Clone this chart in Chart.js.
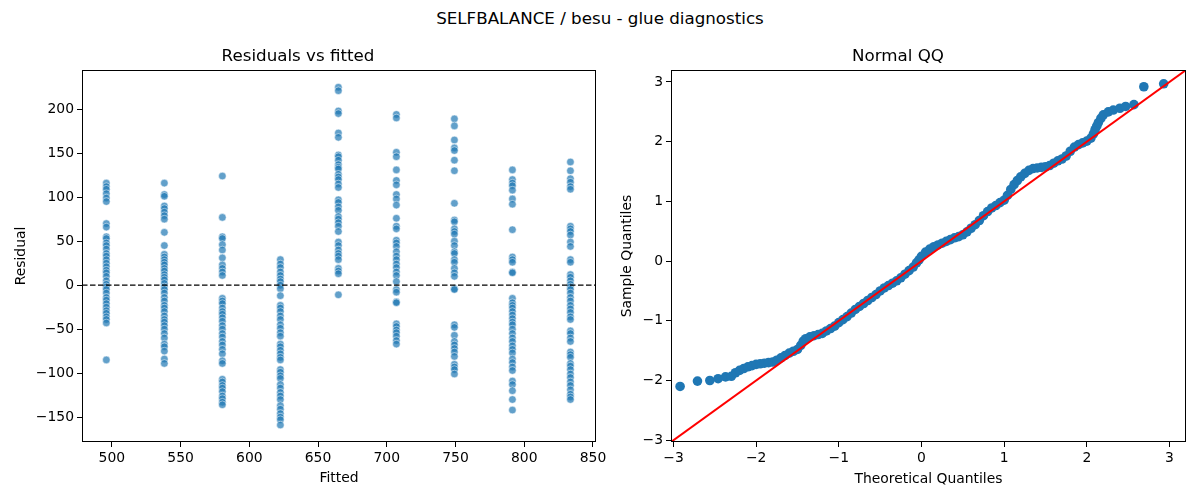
<!DOCTYPE html>
<html>
<head>
<meta charset="utf-8">
<script src="https://cdn.jsdelivr.net/npm/chart.js@4.4.1/dist/chart.umd.min.js"></script>
<style>
  body { margin: 0; width: 1200px; height: 500px; background: #fff; position: relative; overflow: hidden; }
  #suptitulo { position: absolute; left: 0; top: 0; width: 1200px; height: 36px; line-height: 36px;
    text-align: center; font-family: 'DejaVu Sans'; font-size: 16.7px; color: #000; }
  canvas { position: absolute; top: 40px; }
  #residuos { left: 0; }
  #qq { left: 610px; }
</style>
</head>
<body>
<div id="suptitulo">SELFBALANCE / besu - glue diagnostics</div>
<canvas id="residuos" width="610" height="460"></canvas>
<canvas id="qq" width="590" height="460"></canvas>
<script>
// valores ajustados (eixo x do painel da esquerda)
const fittedValues = [496, 538.2, 580.4, 622.6, 664.8, 707, 749.2, 791.4, 833.6];

const resCol1 = [116, 112, 109, 104, 99, 95, 70, 66, 55, 53, 48, 45, 41, 36, 33, 29, 25, 21, 17, 14, 10, 5, 1, -2, -5, -9, -14, -17, -21, -25, -29, -32, -36, -39, -43, -85];
const resCol2 = [116, 103, 101, 90, 87, 83, 79, 75, 60, 45, 35, 32, 29, 26, 23, 19, 16, 12, 9, 6, 2, -2, -5, -9, -14, -18, -23, -26, -30, -35, -39, -42, -46, -50, -55, -60, -67, -70, -75, -84, -89];
const resCol3 = [124, 77, 55, 53, 46, 40, 31, 23, 19, 15, 11, -15, -18, -21, -26, -30, -33, -37, -41, -46, -50, -55, -59, -64, -68, -73, -78, -86, -89, -107, -110, -114, -117, -121, -126, -129, -133, -136];
const resCol4 = [29, 24, 20, 15, 11, 7, 4, 0, -4, -12, -23, -26, -30, -35, -39, -45, -49, -54, -58, -67, -70, -74, -78, -82, -85, -96, -99, -103, -106, -113, -117, -122, -126, -130, -137, -141, -146, -150, -153, -159];
const resCol5 = [225, 221, 198, 195, 173, 168, 148, 146, 142, 137, 134, 132, 126, 123, 120, 115, 111, 97, 94, 89, 85, 78, 75, 71, 67, 61, 49, 45, 40, 36, 33, 29, 19, 16, 13, -11];
const resCol6 = [194, 190, 151, 146, 131, 119, 114, 103, 98, 91, 76, 67, 64, 51, 48, 44, 38, 33, 29, 24, 20, 15, 11, 4, -5, -8, -19, -20, -44, -47, -51, -54, -58, -63, -67];
const resCol7 = [189, 181, 165, 156, 153, 142, 130, 93, 74, 72, 64, 61, 58, 50, 45, 38, 36, 29, 26, 19, 14, 10, -4, -5, -45, -48, -57, -64, -68, -72, -76, -81, -90, -93, -96, -101];
const resCol8 = [131, 120, 116, 113, 108, 98, 92, 63, 32, 29, 26, 15, 14, -15, -20, -23, -26, -30, -34, -38, -42, -45, -50, -55, -60, -64, -69, -73, -77, -84, -88, -93, -97, -109, -113, -120, -130, -142];
const resCol9 = [140, 130, 121, 117, 112, 109, 67, 64, 61, 57, 49, 44, 29, 26, 12, 9, 5, 1, -2, -5, -9, -14, -18, -23, -27, -31, -36, -39, -52, -55, -60, -64, -76, -79, -82, -89, -92, -96, -101, -105, -110, -114, -119, -124, -127, -130];
const residualColumns = [resCol1, resCol2, resCol3, resCol4, resCol5, resCol6, resCol7, resCol8, resCol9];

// quantis do grafico QQ (teorico, amostra)
const qqTheoretical = [-2.92, -2.71, -2.56, -2.46, -2.37, -2.30, -2.25, -2.20, -2.15, -2.10, -2.05, -2.00, -1.95, -1.90, -1.85, -1.80, -1.75, -1.70, -1.65, -1.60, -1.55, -1.50, -1.46, -1.43, -1.40, -1.35, -1.30, -1.25, -1.20, -1.15, -1.10, -1.05, -1.00, -0.95, -0.90, -0.85, -0.80, -0.75, -0.70, -0.65, -0.60, -0.55, -0.50, -0.45, -0.40, -0.35, -0.30, -0.25, -0.20, -0.15, -0.10, -0.06, -0.03, 0.00, 0.05, 0.10, 0.15, 0.20, 0.25, 0.30, 0.35, 0.40, 0.45, 0.50, 0.55, 0.60, 0.65, 0.70, 0.75, 0.80, 0.85, 0.90, 0.95, 1.00, 1.04, 1.08, 1.12, 1.16, 1.20, 1.25, 1.30, 1.35, 1.40, 1.45, 1.50, 1.55, 1.60, 1.65, 1.70, 1.75, 1.80, 1.85, 1.90, 1.95, 2.00, 2.05, 2.08, 2.10, 2.12, 2.14, 2.17, 2.20, 2.26, 2.32, 2.40, 2.47, 2.57, 2.69, 2.93];
const qqSample = [-2.10, -2.01, -2.00, -1.97, -1.94, -1.93, -1.87, -1.83, -1.80, -1.77, -1.75, -1.73, -1.72, -1.71, -1.70, -1.69, -1.66, -1.62, -1.58, -1.54, -1.51, -1.48, -1.41, -1.34, -1.30, -1.27, -1.25, -1.23, -1.21, -1.17, -1.13, -1.09, -1.03, -0.98, -0.93, -0.87, -0.81, -0.76, -0.71, -0.66, -0.61, -0.56, -0.50, -0.45, -0.41, -0.37, -0.33, -0.28, -0.22, -0.16, -0.10, -0.03, 0.02, 0.08, 0.15, 0.20, 0.24, 0.27, 0.30, 0.33, 0.36, 0.39, 0.41, 0.44, 0.49, 0.55, 0.61, 0.68, 0.76, 0.83, 0.89, 0.93, 0.98, 1.02, 1.10, 1.20, 1.28, 1.35, 1.41, 1.47, 1.52, 1.55, 1.56, 1.57, 1.58, 1.60, 1.64, 1.68, 1.71, 1.76, 1.84, 1.91, 1.95, 1.98, 2.01, 2.06, 2.13, 2.20, 2.26, 2.32, 2.39, 2.45, 2.50, 2.53, 2.56, 2.59, 2.62, 2.92, 2.97];

// ticks e limites dos eixos
const fittedTicks = [500, 550, 600, 650, 700, 750, 800, 850];
const residualTicks = [-150, -100, -50, 0, 50, 100, 150, 200];
const qqTicks = [-3, -2, -1, 0, 1, 2, 3];
const fittedRange = [478.3, 852.2];
const residualRange = [-178.3, 244.5];
const qqRange = [-3.03, 3.2];

const fonte = 'DejaVu Sans';
Chart.defaults.font.family = fonte;
Chart.defaults.color = '#000';

function menos(v) {
  return String(v).replace('-', '\u2212');
}

// moldura preta em volta da area do grafico (como os spines do matplotlib)
const moldura = {
  id: 'moldura',
  afterDraw(chart) {
    const { ctx, chartArea: a } = chart;
    ctx.save();
    ctx.strokeStyle = '#000';
    ctx.lineWidth = 1;
    ctx.strokeRect(Math.round(a.left) + 0.5, Math.round(a.top) + 0.5,
      Math.round(a.right - a.left) - 1, Math.round(a.bottom - a.top) - 1);
    ctx.restore();
  }
};

function eixo(range, ticks, titulo, tamanho, horizontal, padTitulo) {
  return {
    type: 'linear',
    min: range[0],
    max: range[1],
    afterBuildTicks: s => { s.ticks = ticks.map(v => ({ value: v })); },
    afterFit: s => { if (horizontal) s.height = tamanho; else s.width = tamanho; },
    grid: { drawOnChartArea: false, drawTicks: true, tickLength: 5, color: '#000', lineWidth: 1 },
    border: { display: false },
    ticks: { color: '#000', font: { size: 13.9 }, padding: 3, maxRotation: 0, autoSkip: false, callback: v => menos(v) },
    title: { display: true, text: titulo, color: '#000', font: { size: 13.9 }, padding: padTitulo }
  };
}

function opcoes(titulo, scales, padDireita) {
  return {
    responsive: false,
    animation: false,
    layout: { padding: { left: 0, right: padDireita, top: 0, bottom: 0 } },
    plugins: {
      legend: { display: false },
      tooltip: { enabled: false },
      title: { display: true, text: titulo, color: '#000', font: { size: 16.7, weight: 'normal' }, padding: { top: 7, bottom: 3 } }
    },
    scales: scales
  };
}

// painel da esquerda: residuos vs ajustados
const pontosResiduos = residualColumns.map((col, i) => ({
  data: col.map(r => ({ x: fittedValues[i], y: r })),
  backgroundColor: 'rgba(31,119,180,0.7)',
  borderColor: 'rgba(255,255,255,0.7)',
  borderWidth: 0.7,
  pointRadius: 3.8,
  order: 1
}));

const linhaZero = {
  type: 'line',
  data: [{ x: fittedRange[0], y: 0 }, { x: fittedRange[1], y: 0 }],
  borderColor: '#000',
  borderWidth: 1.3,
  borderDash: [5.5, 2.5],
  pointRadius: 0,
  order: 0
};

const graficoResiduos = new Chart(document.getElementById('residuos'), {
  type: 'scatter',
  data: { datasets: pontosResiduos.concat([linhaZero]) },
  options: opcoes('Residuals vs fitted', {
    x: eixo(fittedRange, fittedTicks, 'Fitted', 58, true, { top: 0, bottom: 13 }),
    y: eixo(residualRange, residualTicks, 'Residual', 82, false, { top: 13, bottom: 0 })
  }, 14),
  plugins: [moldura]
});

// painel da direita: QQ normal
const pontosQQ = {
  data: qqTheoretical.map((t, i) => ({ x: t, y: qqSample[i] })),
  backgroundColor: '#1f77b4',
  borderColor: '#1f77b4',
  borderWidth: 0,
  pointRadius: 4.8,
  order: 1
};

const linha45 = {
  type: 'line',
  data: [{ x: qqRange[0], y: qqRange[0] }, { x: qqRange[1], y: qqRange[1] }],
  borderColor: '#ff0000',
  borderWidth: 2,
  pointRadius: 0,
  order: 0
};

const graficoQQ = new Chart(document.getElementById('qq'), {
  type: 'scatter',
  data: { datasets: [pontosQQ, linha45] },
  options: opcoes('Normal QQ', {
    x: eixo(qqRange, qqTicks, 'Theoretical Quantiles', 58, true, { top: 0, bottom: 12 }),
    y: eixo(qqRange, qqTicks, 'Sample Quantiles', 61, false, { top: 9, bottom: 0 })
  }, 14),
  plugins: [moldura]
});
</script>
</body>
</html>
